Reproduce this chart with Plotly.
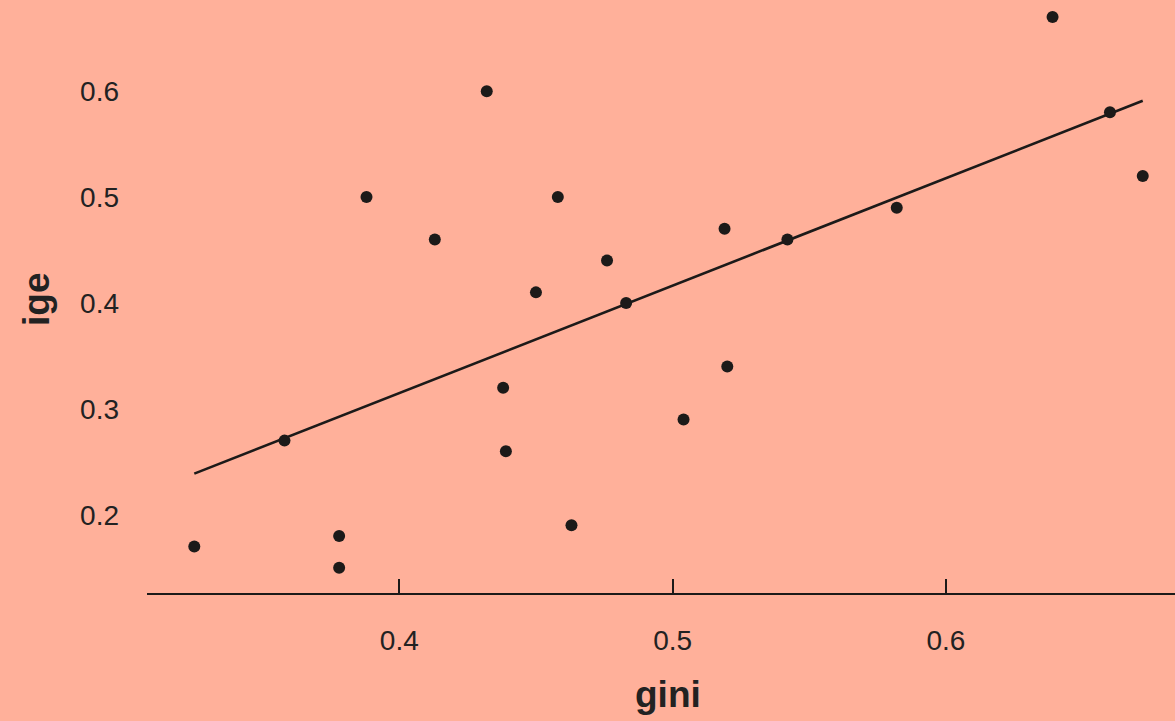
import numpy as np
import plotly.graph_objects as go

# Inequality (gini) vs intergenerational earnings elasticity (ige)
gini = [0.325, 0.358, 0.378, 0.378, 0.388, 0.413, 0.432, 0.438, 0.439, 0.450, 0.458,
        0.463, 0.476, 0.483, 0.504, 0.519, 0.520, 0.542, 0.582, 0.639, 0.660, 0.672]
ige = [0.17, 0.27, 0.18, 0.15, 0.50, 0.46, 0.60, 0.32, 0.26, 0.41, 0.50,
       0.19, 0.44, 0.40, 0.29, 0.47, 0.34, 0.46, 0.49, 0.67, 0.58, 0.52]

x_ticks = [0.4, 0.5, 0.6]
y_ticks = [0.2, 0.3, 0.4, 0.5, 0.6]

# least-squares fit line across the data range
slope, intercept = np.polyfit(gini, ige, 1)
fit_x = [min(gini), max(gini)]
fit_y = [intercept + slope * v for v in fit_x]

BG = "#FFB09A"
INK = "#1c1a19"
FONT = "Liberation Sans, Arial, sans-serif"

fig = go.Figure()
fig.add_trace(go.Scatter(
    x=fit_x, y=fit_y, mode="lines",
    line=dict(color=INK, width=2.6), hoverinfo="skip", showlegend=False,
))
fig.add_trace(go.Scatter(
    x=gini, y=ige, mode="markers",
    marker=dict(color=INK, size=12, line=dict(width=0)),
    showlegend=False,
))

tick_font = dict(family=FONT, size=28, color="#222222")

fig.update_layout(
    width=1175, height=721,
    margin=dict(l=147, r=0, t=0, b=128),
    paper_bgcolor=BG, plot_bgcolor=BG,
    xaxis=dict(
        range=[0.3077, 0.6838], tickvals=x_ticks, ticktext=[str(v) for v in x_ticks],
        showgrid=False, zeroline=False, showline=True, linecolor=INK, linewidth=2,
        ticks="inside", ticklen=14, tickwidth=2, tickcolor=INK,
        tickfont=tick_font, ticklabelstandoff=21,
    ),
    yaxis=dict(
        range=[0.1261, 0.6861], tickvals=y_ticks, ticktext=[str(v) for v in y_ticks],
        showgrid=False, zeroline=False, showline=False,
        ticks="", tickfont=tick_font, ticklabelstandoff=27,
    ),
    annotations=[
        dict(text="<b>gini</b>", xref="paper", yref="paper", x=(668 - 147) / 1028, y=0,
             xanchor="center", yanchor="middle", yshift=-101, showarrow=False,
             font=dict(family=FONT, size=37, color="#222222")),
        dict(text="<b>ige</b>", xref="paper", yref="paper", x=0, xshift=-111,
             xanchor="center", yanchor="middle",
             y=(593 - 300) / 593, textangle=-90, showarrow=False,
             font=dict(family=FONT, size=37, color="#222222")),
    ],
)

fig.write_html("out.html")
